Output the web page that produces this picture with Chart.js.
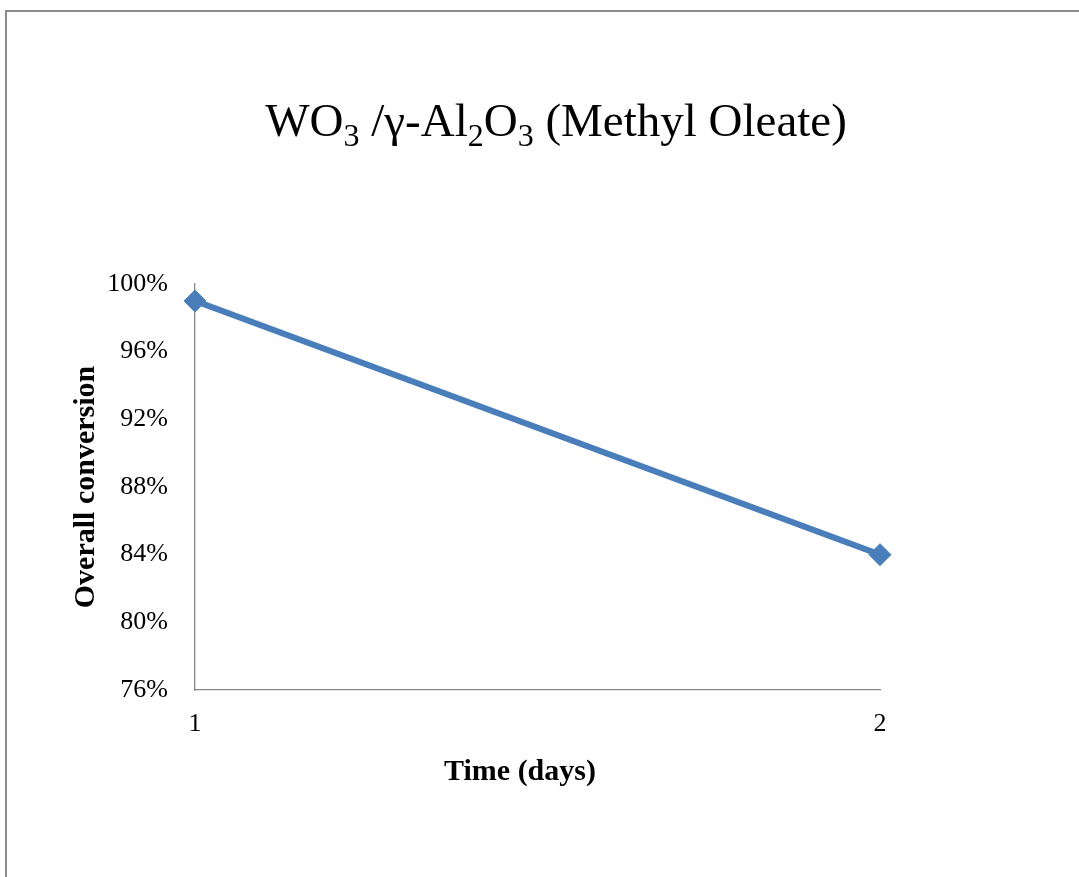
<!DOCTYPE html>
<html>
<head>
<meta charset="utf-8">
<script src="https://cdn.jsdelivr.net/npm/chart.js"></script>
<style>
  body { margin: 0; background: #fff; }
  #wrap { position: relative; width: 1079px; height: 877px; }
  #frame { position: absolute; left: 5px; top: 10px; right: -5px; bottom: -5px; border-left: 2px solid #8c8c8c; border-top: 2px solid #8c8c8c; }
  canvas { position: absolute; left: 0; top: 0; }
</style>
</head>
<body>
<div id="wrap">
  <div id="frame"></div>
  <canvas id="chart" width="1079" height="877"></canvas>
</div>
<script>
// values
const days = ['1', '2'];
const conversion = [99, 84];
const yTicks = [76, 80, 84, 88, 92, 96, 100];

// title pieces: [text, isSubscript]
const titleParts = [
  ['WO', false], ['3', true], [' /\u03b3-Al', false], ['2', true],
  ['O', false], ['3', true], [' (Methyl Oleate)', false]
];
const xTitle = 'Time (days)';

const serif = "'Liberation Serif', 'Times New Roman', serif";

const titlePlugin = {
  id: 'subTitle',
  afterDraw(chart) {
    const ctx = chart.ctx;
    const bigFont = '47px ' + serif;
    const smallFont = '32px ' + serif;
    ctx.save();
    ctx.fillStyle = '#000';
    ctx.textBaseline = 'alphabetic';
    let total = 0;
    titleParts.forEach(p => {
      ctx.font = p[1] ? smallFont : bigFont;
      total += ctx.measureText(p[0]).width;
    });
    let x = 556 - total / 2;
    const base = 136;
    titleParts.forEach(p => {
      ctx.font = p[1] ? smallFont : bigFont;
      ctx.fillText(p[0], x, p[1] ? base + 10 : base);
      x += ctx.measureText(p[0]).width;
    });

    // x axis title, sits a bit left of the plot centre like the original
    ctx.font = 'bold 30px ' + serif;
    ctx.textAlign = 'center';
    ctx.textBaseline = 'middle';
    ctx.fillText(xTitle, 520, 772);
    ctx.restore();
  }
};

var ctx = document.getElementById('chart').getContext('2d');
var myChart = new Chart(ctx, {
  type: 'line',
  data: {
    labels: days,
    datasets: [{
      label: 'Overall conversion',
      data: conversion,
      borderColor: '#4a7ebb',
      backgroundColor: '#4a7ebb',
      borderWidth: 6,
      pointStyle: 'rectRot',
      pointRadius: 11,
      pointBorderWidth: 1,
      clip: false
    }]
  },
  options: {
    responsive: false,
    animation: false,
    layout: { padding: { top: 284, left: 0, right: 199, bottom: 0 } },
    plugins: {
      legend: { display: false },
      tooltip: { enabled: false }
    },
    scales: {
      x: {
        offset: false,
        grid: { display: false, drawTicks: false },
        border: { display: true, color: '#888', width: 1.3 },
        ticks: { color: '#000', padding: 19, font: { family: serif, size: 26 } },
        afterFit(scale) { scale.height = 187; }
      },
      y: {
        min: yTicks[0],
        max: yTicks[yTicks.length - 1],
        afterBuildTicks(scale) { scale.ticks = yTicks.map(v => ({ value: v })); },
        grid: { display: false, drawTicks: false },
        border: { display: true, color: '#888', width: 1.3 },
        ticks: { color: '#000', padding: 27, font: { family: serif, size: 26 }, callback: v => v + '%' },
        title: { display: true, text: 'Overall conversion', color: '#000', padding: { top: 68, bottom: 0 }, font: { family: serif, size: 30, weight: 'bold' } },
        afterFit(scale) { scale.width = 195; }
      }
    }
  },
  plugins: [titlePlugin]
});
</script>
</body>
</html>
